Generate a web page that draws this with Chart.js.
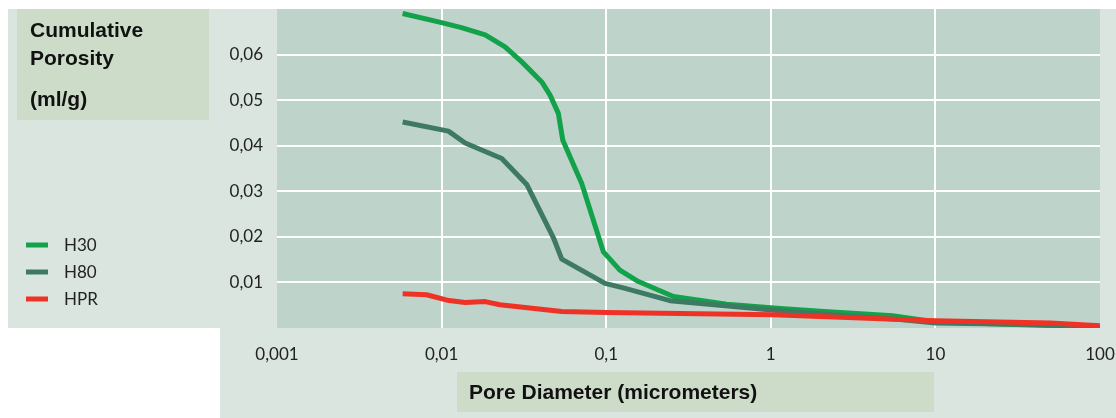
<!DOCTYPE html>
<html>
<head>
<meta charset="utf-8">
<script src="https://cdn.jsdelivr.net/npm/chart.js@4"></script>
<style>
  html, body { margin: 0; padding: 0; background: #fff; }
  canvas { display: block; }
</style>
</head>
<body>
<canvas id="poreChart" width="1116" height="418"></canvas>
<script>
// Axis ticks
const xTicks = [0.001, 0.01, 0.1, 1, 10, 100];
const xLabels = ['0,001', '0,01', '0,1', '1', '10', '100'];
const yTicks = [0.01, 0.02, 0.03, 0.04, 0.05, 0.06];

// Series (pore diameter in micrometers -> cumulative porosity ml/g)
const seriesNames = ['H30', 'H80', 'HPR'];
const h30Diam = [0.0058, 0.010, 0.0132, 0.0184, 0.0243, 0.0307, 0.0406, 0.0456, 0.0512, 0.0545, 0.071, 0.0962, 0.121, 0.157, 0.256, 0.54, 1.14, 2, 5.5, 10, 100];
const h30Poro = [0.0690, 0.0670, 0.0659, 0.0643, 0.0617, 0.0584, 0.0540, 0.0511, 0.0471, 0.0412, 0.0317, 0.0167, 0.0127, 0.0102, 0.0069, 0.0052, 0.0043, 0.0037, 0.0027, 0.0013, 0.0002];
const h80Diam = [0.0058, 0.011, 0.0139, 0.0232, 0.0329, 0.0478, 0.0537, 0.0984, 0.127, 0.244, 1.14, 2, 5.5, 10, 50, 100];
const h80Poro = [0.0452, 0.0432, 0.0406, 0.0372, 0.0315, 0.0198, 0.0151, 0.0098, 0.0088, 0.0060, 0.0038, 0.0031, 0.0020, 0.0011, 0.0007, 0.0];
const hprDiam = [0.0058, 0.0081, 0.0108, 0.0139, 0.0184, 0.0226, 0.0537, 0.1, 1.03, 10, 50, 100];
const hprPoro = [0.0075, 0.0073, 0.0061, 0.0056, 0.0058, 0.0051, 0.0036, 0.0034, 0.0029, 0.0016, 0.0011, 0.0005];

const colors = ['#12a24a', '#3e7a63', '#ee3326'];

const toPoints = (xs, ys) => xs.map((x, i) => ({ x: x, y: ys[i] }));

// backgrounds, title boxes, legend
const decoPlugin = {
  id: 'deco',
  beforeDraw(chart) {
    const c = chart.ctx;
    const a = chart.chartArea;
    c.save();
    c.fillStyle = '#ffffff';
    c.fillRect(0, 0, chart.width, chart.height);
    // light panel
    c.fillStyle = '#dae5df';
    c.beginPath();
    c.moveTo(8, 9);
    c.lineTo(chart.width, 9);
    c.lineTo(chart.width, chart.height);
    c.lineTo(220, chart.height);
    c.lineTo(220, 328);
    c.lineTo(8, 328);
    c.closePath();
    c.fill();
    // plot area
    c.fillStyle = '#bed3ca';
    c.fillRect(a.left, a.top, a.right - a.left, a.bottom - a.top);
    // title boxes
    c.fillStyle = '#cddcc8';
    c.fillRect(17, 9, 192, 111);
    c.fillRect(457, 372, 477, 40);
    c.fillStyle = '#111';
    c.font = 'bold 21px "Liberation Sans", Arial, sans-serif';
    c.textBaseline = 'middle';
    c.textAlign = 'left';
    c.fillText('Cumulative', 30, 31);
    c.fillText('Porosity', 30, 59);
    c.fillText('(ml/g)', 30, 100);
    c.fillText('Pore Diameter (micrometers)', 469, 393);
    // legend
    c.font = '17px Lato, sans-serif';
    chart.data.datasets.forEach((ds, i) => {
      const y = 245 + i * 27;
      c.strokeStyle = ds.borderColor;
      c.lineWidth = 5;
      c.beginPath();
      c.moveTo(26, y);
      c.lineTo(48, y);
      c.stroke();
      c.fillStyle = '#222';
      c.fillText(ds.label, 64, y + 1);
    });
    c.restore();
  }
};

new Chart(document.getElementById('poreChart'), {
  type: 'line',
  data: {
    datasets: [
      { label: seriesNames[0], data: toPoints(h30Diam, h30Poro), borderColor: colors[0], order: 2 },
      { label: seriesNames[1], data: toPoints(h80Diam, h80Poro), borderColor: colors[1], order: 1 },
      { label: seriesNames[2], data: toPoints(hprDiam, hprPoro), borderColor: colors[2], order: 0 }
    ]
  },
  options: {
    responsive: false,
    devicePixelRatio: 1,
    animation: false,
    layout: { padding: { top: 9, right: 16, left: 0, bottom: 0 } },
    elements: {
      line: { borderWidth: 5, tension: 0, borderJoinStyle: 'round', borderCapStyle: 'butt' },
      point: { radius: 0 }
    },
    plugins: { legend: { display: false }, tooltip: { enabled: false } },
    scales: {
      x: {
        type: 'logarithmic',
        min: 0.001,
        max: 100,
        afterBuildTicks: s => { s.ticks = xTicks.map(v => ({ value: v })); },
        afterFit: s => {
          s.height = 90;
          s.paddingLeft = 0;
          s.paddingRight = 0;
        },
        grid: {
          color: ctx => (ctx.index === 0 || ctx.index === xTicks.length - 1) ? 'rgba(0,0,0,0)' : '#ffffff',
          lineWidth: 2,
          drawTicks: false
        },
        border: { display: false },
        ticks: {
          color: '#222',
          font: { family: 'Lato', size: 17 },
          padding: 16,
          maxRotation: 0,
          callback: (v, i) => xLabels[i]
        }
      },
      y: {
        min: 0,
        max: 0.07,
        afterBuildTicks: s => { s.ticks = yTicks.map(v => ({ value: v })); },
        afterFit: s => {
          s.width = 277;
          s.paddingTop = 0;
          s.paddingBottom = 0;
        },
        grid: { color: '#ffffff', lineWidth: 2, drawTicks: false },
        border: { display: false },
        ticks: {
          color: '#222',
          font: { family: 'Lato', size: 17 },
          padding: 14,
          callback: v => v.toFixed(2).replace('.', ',')
        }
      }
    }
  },
  plugins: [decoPlugin]
});
</script>
</body>
</html>
